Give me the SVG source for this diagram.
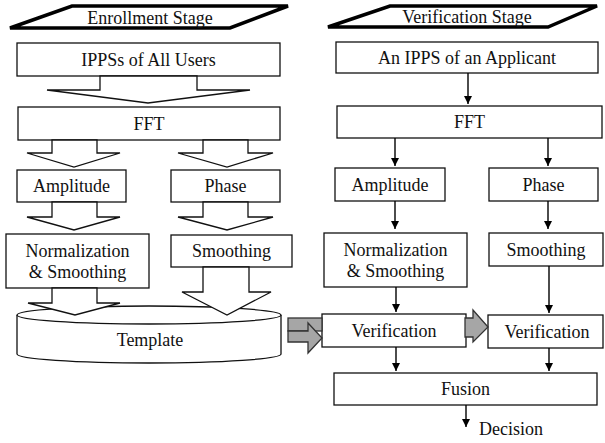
<svg xmlns="http://www.w3.org/2000/svg" width="605" height="443" viewBox="0 0 605 443">
<defs>
<marker id="ah" markerWidth="10" markerHeight="10" refX="9" refY="5" orient="auto" markerUnits="userSpaceOnUse">
<path d="M1,1 L9,5 L1,9 Z" fill="#000"/>
</marker>
<style>
.box{fill:#fff;stroke:#111;stroke-width:1.3}
.stage{fill:#fff;stroke:#000;stroke-width:3.5;stroke-linejoin:miter}
.t{font-family:'Liberation Serif','Times New Roman',serif;font-size:18px;fill:#111;text-anchor:middle}
.bigarrow{fill:#fff;stroke:#111;stroke-width:1.3;stroke-linejoin:miter}
.grey{fill:#a6a6a6;stroke:#333;stroke-width:1.3}
.ln{stroke:#000;stroke-width:1.4;fill:none;marker-end:url(#ah)}
</style>
</defs>
<rect width="605" height="443" fill="#fff"/>

<g id="enroll-stage"><polygon class="stage" points="72,6 288,6 230,28 10,28"/><text class="t" x="150" y="24">Enrollment Stage</text></g>
<g id="verif-stage"><polygon class="stage" points="390,6 597,6 548,27 328,27"/><text class="t" x="467" y="23">Verification Stage</text></g>

<g id="ippss"><rect class="box" x="17" y="43" width="263" height="33"/><text class="t" x="148.5" y="66">IPPSs of All Users</text></g>
<g id="fft-l"><rect class="box" x="18" y="107" width="262" height="33"/><text class="t" x="149" y="130">FFT</text></g>
<g id="amp-l"><rect class="box" x="17" y="170" width="109" height="32"/><text class="t" x="71.5" y="192">Amplitude</text></g>
<g id="phase-l"><rect class="box" x="171" y="170" width="109" height="32"/><text class="t" x="225.5" y="192">Phase</text></g>
<g id="norm-l"><rect class="box" x="6" y="234" width="143" height="54"/><text class="t" x="77.5" y="257">Normalization</text><text class="t" x="77.5" y="278">&amp; Smoothing</text></g>
<g id="smooth-l"><rect class="box" x="171" y="235" width="121" height="32"/><text class="t" x="231.5" y="257">Smoothing</text></g>

<g id="template">
<path class="box" d="M17,315 L17,354 A132,9 0 0 0 281,354 L281,315"/>
<ellipse class="box" cx="149" cy="315" rx="132" ry="9"/>
<text class="t" x="150" y="346">Template</text>
</g>

<g id="enroll-connectors">
<polygon class="bigarrow" points="100,76 197,76 197,90 250,90 148,103 47,90 100,90"/>
<polygon class="bigarrow" points="52,140 97,140 97,153 120,153 74,167 27,153 52,153"/>
<polygon class="bigarrow" points="203,140 248,140 248,153 273,153 227,167 178,153 203,153"/>
<polygon class="bigarrow" points="52,202 97,202 97,217 120,217 74,230 27,217 52,217"/>
<polygon class="bigarrow" points="203,202 248,202 248,217 273,217 227,230 178,217 203,217"/>
<polygon class="bigarrow" points="52,288 97,288 97,303 120,303 75,315 28,303 52,303"/>
<polygon class="bigarrow" points="203,267 249,267 249,292 271,292 227,315 182,292 203,292"/>
</g>

<g id="applicant"><rect class="box" x="336" y="42" width="262" height="31"/><text class="t" x="467" y="64">An IPPS of an Applicant</text></g>
<g id="fft-r"><rect class="box" x="337" y="106" width="265" height="32"/><text class="t" x="469.5" y="128">FFT</text></g>
<g id="amp-r"><rect class="box" x="335" y="168" width="110" height="33"/><text class="t" x="390" y="191">Amplitude</text></g>
<g id="phase-r"><rect class="box" x="489" y="168" width="109" height="33"/><text class="t" x="543.5" y="191">Phase</text></g>
<g id="norm-r"><rect class="box" x="324" y="233" width="143" height="54"/><text class="t" x="395.5" y="256">Normalization</text><text class="t" x="395.5" y="277">&amp; Smoothing</text></g>
<g id="smooth-r"><rect class="box" x="489" y="233" width="114" height="33"/><text class="t" x="546" y="256">Smoothing</text></g>
<g id="verif-1"><rect class="box" x="322" y="314" width="144" height="33"/><text class="t" x="394" y="337">Verification</text></g>
<g id="verif-2"><rect class="box" x="488" y="315" width="115" height="33"/><text class="t" x="547" y="338">Verification</text></g>
<g id="fusion"><rect class="box" x="334" y="373" width="263" height="32"/><text class="t" x="465.5" y="395">Fusion</text></g>
<g id="decision"><text class="t" x="479" y="435" style="text-anchor:start">Decision</text></g>

<g id="verif-connectors">
<line class="ln" x1="468" y1="73" x2="468" y2="104"/>
<line class="ln" x1="395" y1="138" x2="395" y2="166"/>
<line class="ln" x1="548" y1="138" x2="548" y2="166"/>
<line class="ln" x1="395" y1="201" x2="395" y2="229"/>
<line class="ln" x1="548" y1="201" x2="548" y2="229"/>
<line class="ln" x1="396" y1="287" x2="396" y2="312"/>
<line class="ln" x1="549" y1="266" x2="549" y2="313"/>
<line class="ln" x1="396" y1="347" x2="396" y2="371"/>
<line class="ln" x1="549" y1="348" x2="549" y2="371"/>
<line class="ln" x1="466" y1="405" x2="466" y2="427"/>
</g>

<g id="grey-arrows">
<rect class="grey" x="288" y="318" width="34" height="13"/>
<polygon class="grey" points="288,331 308,331 308,323 322,338 308,353 308,342 288,342"/>
<polygon class="grey" points="465,318 473,318 473,310 488,327 473,342 473,337 465,337"/>
</g>
</svg>
